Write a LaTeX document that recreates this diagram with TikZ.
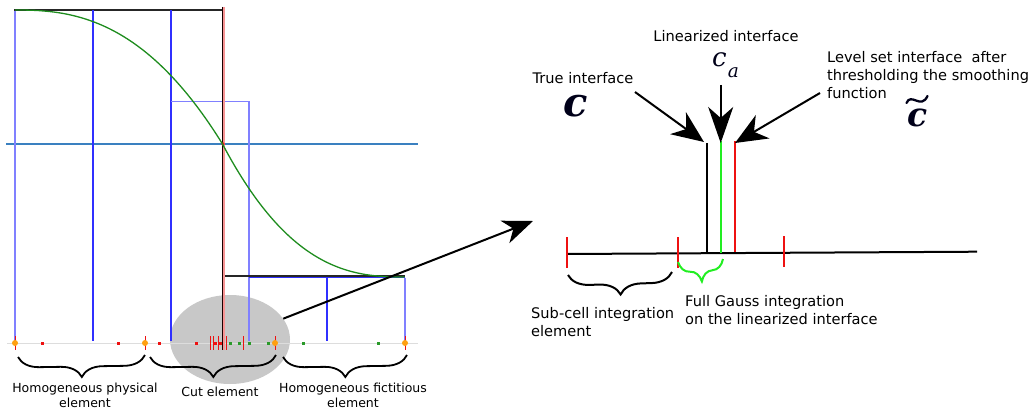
\documentclass[tikz,border=0pt]{standalone}
\usepackage{fontspec}
\setmainfont{DejaVu Sans}
\newfontfamily\cfont{DejaVu Serif}
\usetikzlibrary{arrows.meta,decorations.pathreplacing,shapes.geometric}
\definecolor{lblue}{HTML}{8080FF}
\definecolor{dblue}{HTML}{3030FF}
\definecolor{sblue}{HTML}{3A80C0}
\definecolor{cgreen}{HTML}{1E8C1E}
\definecolor{lime}{HTML}{22EE22}
\definecolor{rred}{HTML}{EE1111}
\definecolor{orng}{HTML}{FFA010}
\definecolor{ellgray}{HTML}{C8C8C8}
\definecolor{axgray}{HTML}{DDDDDD}
\definecolor{sqgreen}{HTML}{2A9A2A}
\tikzset{
  lbl/.style={font=\fontsize{12.5}{15.5}\selectfont, align=center, inner sep=0pt},
  rlbl/.style={font=\fontsize{14.6}{18}\selectfont, align=left, inner sep=0pt, anchor=west},
  bigarrow/.style={line width=2pt, -{Stealth[length=30pt,width=24pt,inset=9pt]}},
  brc/.style={decorate, decoration={brace, amplitude=21pt, mirror}, line width=1.8pt},
  thin lw/.style={line width=1.4pt},
  letter/.style={inner sep=0pt, text=black!90!blue}
}
\begin{document}
\begin{tikzpicture}[x=1pt,y=-1pt]
\useasboundingbox (0,0) rectangle (1034,412);
% ---------- left figure ----------
\node[ellipse, fill=ellgray, minimum width=120pt, minimum height=89pt, inner sep=0pt] (zoomell) at (230,339.5) {};
\draw[axgray, line width=1pt] (7,343) -- (418,343);
\draw[sblue, line width=1.3pt] (6,144) -- (418,144);
\draw[lblue, thin lw] (15,10) -- (15,343);
\draw[dblue, thin lw] (15,10) -- (171,10);
\draw[black!85, thin lw] (14,10) -- (222.5,10);
\draw[dblue, thin lw] (93,10) -- (93,341);
\draw[dblue, thin lw] (171,10) -- (171,341);
\draw[lblue, thin lw] (171,101.5) -- (249,101.5) -- (249,341);
\draw[black!85, thin lw] (222.5,276) -- (405,276);
\draw[dblue, thin lw] (249,277.5) -- (405,277.5);
\draw[dblue, thin lw] (327,277.5) -- (327,341);
\draw[lblue, thin lw] (405,277.5) -- (405,343);
\draw[rred!45, line width=1.3pt] (224,7) -- (224,350);
\draw[black!90!red, line width=1.6pt] (222.5,7) -- (222.5,350);
\fill[rred] (223,144) circle (1.8pt);
\draw[cgreen, line width=1.3pt] plot[domain=0.001:1, samples=60] ({15+207.5*\x}, {10+134*(\x)^2.5})
  -- plot[domain=1:0.001, samples=60] ({405-182.5*\x}, {277-133*(\x)^2.6});
% markers on the axis
\foreach \x in {15,145,275,405} {
  \draw[rred, line width=1pt] (\x,336) -- (\x,350);
  \fill[orng] (\x,343) circle (3pt);
}
\foreach \x in {42,118,159,196,215,220} \fill[rred] (\x-1.5,341.5) rectangle (\x+1.5,344.5);
\foreach \x in {230,239,249,268,303,378} \fill[sqgreen] (\x-1.5,341.5) rectangle (\x+1.5,344.5);
\foreach \x in {210,213,218,226,243} \draw[rred, line width=1pt] (\x,336) -- (\x,350);
% braces
\draw[brc] (18,357) -- (145,355);
\draw[brc] (150,357) -- (276,355);
\draw[brc] (283,357) -- (407,355);
\node[lbl] (physlbl) at (85,395.5) {Homogeneous physical\\element};
\node[lbl] (cutlbl) at (220,391.7) {Cut element};
\node[lbl] (fictlbl) at (353,395.5) {Homogeneous fictitious\\element};
% zoom arrow
\coordinate (zoomtgt) at (533,221);
\draw[bigarrow] (zoomell) -- (zoomtgt);
% ---------- right figure ----------
\coordinate (axL) at (567,254);
\coordinate (axR) at (977,251.7);
\draw[black, line width=2pt] (axL) -- (axR);
\draw[rred, line width=2pt] (567,237) -- (567,268);
\draw[rred, line width=2pt] (678,237) -- (678,268);
\draw[rred, line width=2pt] (784,236) -- (784,267);
\draw[black, line width=2pt] (707,143) -- (707,253);
\draw[lime, line width=2pt] (720.7,141) -- (720.7,253);
\draw[rred, line width=2pt] (735,141) -- (735,252);
\draw[decorate, decoration={brace, amplitude=21pt, mirror}, line width=2pt, lime] (678,262) -- (723,259);
\draw[brc, line width=2pt] (568,275) -- (672,272);
\node[rlbl] (sublbl) at (531,322) {Sub-cell integration\\element};
\node[rlbl] (gausslbl) at (685,310.5) {Full Gauss integration\\on the linearized interface};
\node[lbl, font=\fontsize{14.6}{18}\selectfont] (truelbl) at (583,78.3) {True interface};
\node[lbl, font=\fontsize{14.6}{18}\selectfont] (linlbl) at (726,36) {Linearized interface};
\node[rlbl] (levlbl) at (827,75) {Level set interface~ after\\thresholding the smoothing\\function};
\node[letter, font=\cfont\bfseries\itshape\fontsize{40}{40}\selectfont] (bigC) at (575.5,106) {c};
\node[letter, font=\cfont\itshape\fontsize{26}{26}\selectfont] (caC) at (719.5,60) {c};
\node[letter, font=\cfont\itshape\fontsize{18.5}{18.5}\selectfont] (caA) at (733.5,72.5) {a};
\node[letter, font=\cfont\bfseries\itshape\fontsize{33}{33}\selectfont] (tilC) at (918,118) {c};
\draw[black!90!blue, line width=2.3pt, line cap=round] (906.5,103) .. controls (911,92) and (921,110) .. (927.5,96);
% pointer arrows
\coordinate (p1s) at (635,92);
\coordinate (p1e) at (704,142);
\coordinate (p2s) at (720.7,85);
\coordinate (p2e) at (720.7,143);
\coordinate (p3s) at (820,93);
\coordinate (p3e) at (735,143);
\draw[line width=2pt, -{Stealth[length=32pt,width=27pt,inset=10pt]}] (p1s) -- (p1e);
\draw[line width=2pt, -{Stealth[length=36pt,width=25pt,inset=11pt]}] (p2s) -- (p2e);
\draw[line width=2pt, -{Stealth[length=32pt,width=27pt,inset=10pt]}] (p3s) -- (p3e);
\end{tikzpicture}
\end{document}
